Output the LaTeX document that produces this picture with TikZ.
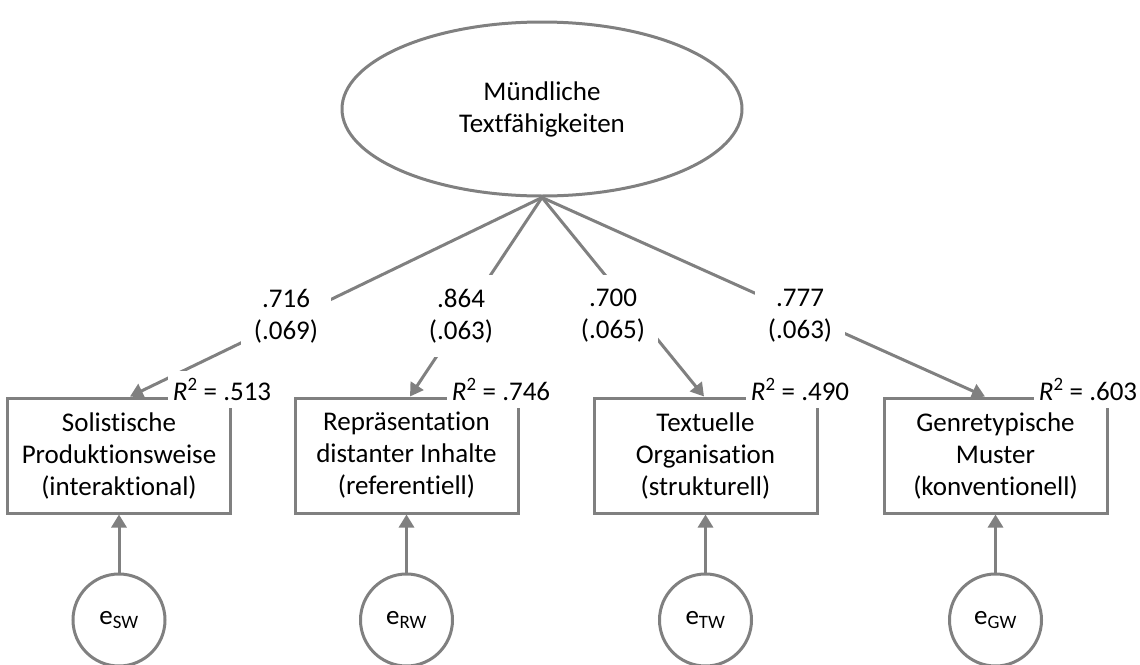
\documentclass[tikz,border=0pt]{standalone}
\usepackage{fontspec}
\setmainfont{Carlito}[Ligatures=NoCommon]
\usetikzlibrary{shapes.geometric, arrows.meta, positioning}
\definecolor{linegray}{RGB}{128,128,128}

\begin{document}
\begin{tikzpicture}[
    x=1pt, y=-1pt,
    every node/.style={font=\fontsize{27}{32}\selectfont},
    latent/.style={ellipse, draw=linegray, line width=3pt, minimum width=400pt, minimum height=174pt, align=center},
    indicator/.style={rectangle, draw=linegray, line width=3pt, minimum width=223pt, minimum height=115pt, align=center},
    residual/.style={circle, draw=linegray, line width=3pt, minimum size=92pt, inner sep=0pt},
    loading/.style={fill=white, minimum width=90pt, minimum height=82pt, align=center, inner sep=0pt},
    rsq/.style={fill=white, inner xsep=5pt, inner ysep=8pt, anchor=base},
    arrow/.style={-{Triangle[length=13pt, width=15pt]}, draw=linegray, line width=3pt},
    node distance=58pt
]
\useasboundingbox (0,0) rectangle (1140,664);

% Latent factor
\node[latent] (mt) at (542,109) {Mündliche\\Textfähigkeiten};

% Indicators
\node[indicator] (sw) at (119,455.5) {Solistische\\Produktionsweise\\(interaktional)};
\node[indicator] (rw) at (406.5,455.5) {Repräsentation\\distanter Inhalte\\(referentiell)};
\node[indicator] (tw) at (705.5,455.5) {Textuelle\\Organisation\\(strukturell)};
\node[indicator] (gw) at (995.5,455.5) {Genretypische\\Muster\\(konventionell)};

% Residuals
\node[residual, below=of sw] (esw) {e\textsubscript{SW}};
\node[residual, below=of rw] (erw) {e\textsubscript{RW}};
\node[residual, below=of tw] (etw) {e\textsubscript{TW}};
\node[residual, below=of gw] (egw) {e\textsubscript{GW}};

% Loadings
\draw[arrow] (mt.south) -- ([xshift=11pt]sw.north);
\draw[arrow] (mt.south) -- ([xshift=3.5pt]rw.north);
\draw[arrow] (mt.south) -- ([xshift=-1.5pt]tw.north);
\draw[arrow] (mt.south) -- ([xshift=-10.5pt]gw.north);

\draw[arrow] (esw) -- (sw);
\draw[arrow] (erw) -- (rw);
\draw[arrow] (etw) -- (tw);
\draw[arrow] (egw) -- (gw);

% Estimates (standard errors)
\node[loading] (lsw) at (286,316) {.716\\(.069)};
\node[loading] (lrw) at (461,316) {.864\\(.063)};
\node[loading] (ltw) at (613,316) {.700\\(.065)};
\node[loading] (lgw) at (800,316) {.777\\(.063)};

% Explained variance
\node[rsq] (rsw) at (222,400) {\textit{R}\textsuperscript{2} = .513};
\node[rsq] (rrw) at (501,400) {\textit{R}\textsuperscript{2} = .746};
\node[rsq] (rtw) at (800,400) {\textit{R}\textsuperscript{2} = .490};
\node[rsq] (rgw) at (1088,400) {\textit{R}\textsuperscript{2} = .603};

\end{tikzpicture}
\end{document}
